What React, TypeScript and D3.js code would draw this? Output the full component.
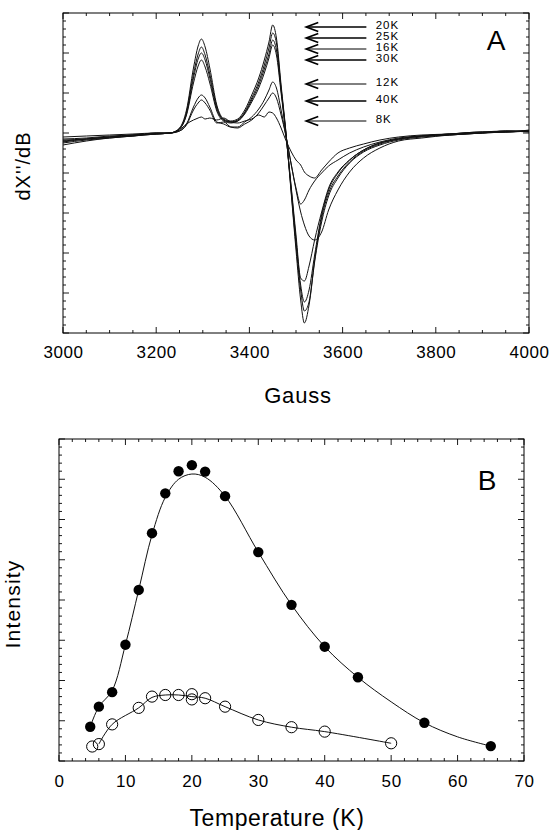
import { useEffect, useRef } from 'react';
import * as d3 from 'd3';

const FONT = '"Liberation Sans", Arial, Helvetica, sans-serif';

// ---- panel A: EPR derivative spectra (arbitrary units, baseline = 0) ----
const gauss = [
  3000, 3050, 3100, 3150, 3200, 3230, 3250, 3265, 3280, 3290, 3297, 3305, 3315, 3330,
  3345, 3360, 3375, 3390, 3405, 3420, 3432, 3442, 3450, 3458, 3468, 3478, 3490, 3500,
  3510, 3518, 3528, 3540, 3555, 3570, 3590, 3615, 3645, 3680, 3720, 3770, 3830, 3900,
  3950, 4000,
];

const spec20K = [
  -8, -6, -4, -2, -1, 0, 5, 23, 65, 87, 94, 86, 65, 28,
  14, 12, 14, 23, 38, 55, 73, 91, 108, 95, 48, 3, -62, -117,
  -167, -190, -172, -129, -89, -63, -45, -30, -19, -12, -7, -4, -2, 0,
  1, 2,
];
const spec25K = [
  -10, -7, -5, -3, -1, 0, 4, 21, 59, 79, 86, 78, 59, 26,
  13, 11, 13, 21, 35, 51, 68, 85, 100, 90, 45, 2, -60, -112,
  -157, -178, -169, -127, -85, -60, -43, -29, -18, -11, -6, -3, -1, 1,
  1, 2,
];
const spec16K = [
  -6, -5, -3, -2, 0, 0, 4, 19, 55, 74, 80, 73, 55, 24,
  13, 11, 12, 20, 33, 48, 64, 79, 93, 83, 43, 1, -57, -107,
  -152, -169, -157, -122, -82, -57, -40, -27, -17, -10, -6, -3, -1, 0,
  2, 1,
];
const spec30K = [
  -12, -8, -5, -3, -1, 0, 4, 18, 50, 67, 73, 66, 50, 22,
  12, 10, 12, 19, 31, 45, 60, 75, 88, 78, 40, 0, -55, -102,
  -145, -148, -133, -107, -79, -55, -39, -27, -17, -10, -6, -3, -2, 0,
  1, 2,
];
const spec12K = [
  -9, -6, -4, -2, -1, 0, 2, 9, 26, 35, 38, 35, 26, 11,
  9, 6, 6, 11, 16, 24, 33, 43, 51, 45, 23, -2, -32, -55,
  -71, -67, -57, -48, -40, -33, -27, -20, -14, -9, -5, -3, -1, 1,
  1, 3,
];
const spec40K = [
  -4, -3, -2, -1, 0, 0, 2, 8, 23, 30, 33, 30, 23, 10,
  11, 6, 5, 9, 13, 20, 28, 35, 40, 35, 18, -2, -32, -57,
  -79, -92, -103, -107, -99, -77, -57, -39, -25, -15, -8, -5, -2, 0,
  2, 2,
];
const spec8K = [
  -7, -6, -4, -3, 0, 0, 3, 9, 13, 15, 16, 14, 15, 13,
  15, 11, 10, 12, 14, 18, 16, 21, 20, 15, 5, -7, -19, -27,
  -32, -39, -43, -45, -37, -29, -20, -15, -11, -7, -4, -2, -1, 1,
  2, 2,
];

const spectra = [spec8K, spec12K, spec40K, spec30K, spec16K, spec25K, spec20K];

const arrowLabels = ['20K', '25K', '16K', '30K', '12K', '40K', '8K'];
const arrowLevels = [106, 95, 84, 73, 49, 32, 12];
const arrowWeights = [1.6, 1.6, 1, 1.6, 1, 1.6, 1.2];

// ---- panel B: intensity vs temperature ----
const tFilled = [4.7, 6, 8, 10, 12, 14, 16, 18, 20, 22, 25, 30, 35, 40, 45, 55, 65];
const iFilled = [0.85, 1.35, 1.71, 2.89, 4.25, 5.66, 6.65, 7.2, 7.35, 7.19, 6.58, 5.19, 3.88, 2.84, 2.08, 0.95, 0.37];

const tFit = [4.7, 6, 8, 10, 12, 14, 16, 18, 20, 22, 25, 30, 35, 40, 45, 50, 55, 60, 65];
const iFit = [0.85, 1.35, 1.75, 2.89, 4.25, 5.62, 6.55, 7.0, 7.13, 7.05, 6.58, 5.19, 3.88, 2.84, 2.08, 1.47, 0.95, 0.6, 0.37];

const tOpen = [5, 6, 8, 12, 14, 16, 18, 20, 20, 22, 25, 30, 35, 40, 50];
const iOpen = [0.36, 0.42, 0.91, 1.32, 1.6, 1.64, 1.64, 1.66, 1.53, 1.56, 1.35, 1.02, 0.84, 0.73, 0.44];

const tOpenLine = [6, 8, 12, 14, 16, 18, 20, 22, 25, 30, 35, 40, 50];
const iOpenLine = [0.42, 0.91, 1.32, 1.58, 1.64, 1.64, 1.6, 1.56, 1.35, 1.02, 0.84, 0.73, 0.44];

const W = 550;
const H = 830;

// boxed frame with inward ticks on all four sides
function drawFrame(g, x, y, xMajor, xMinor, yMajor, yMinor) {
  const [xl, xr] = x.range();
  const [yb, yt] = y.range();
  const isMajor = (v, step) => Math.abs(v / step - Math.round(v / step)) < 1e-6;

  g.append('rect')
    .attr('x', xl).attr('y', yt)
    .attr('width', xr - xl).attr('height', yb - yt)
    .attr('fill', 'none').attr('stroke', '#000').attr('stroke-width', 1);

  const [xd0, xd1] = x.domain();
  d3.range(0, Math.round((xd1 - xd0) / xMinor) + 1).map(i => xd0 + i * xMinor).forEach(v => {
    const len = isMajor(v, xMajor) ? 6 : 3;
    const px = x(v);
    g.append('line').attr('x1', px).attr('x2', px).attr('y1', yb).attr('y2', yb - len)
      .attr('stroke', '#000').attr('stroke-width', 0.9);
    g.append('line').attr('x1', px).attr('x2', px).attr('y1', yt).attr('y2', yt + len)
      .attr('stroke', '#000').attr('stroke-width', 0.9);
  });

  const [yd0, yd1] = y.domain();
  d3.range(0, Math.round((yd1 - yd0) / yMinor) + 1).map(i => yd0 + i * yMinor).forEach(v => {
    const len = isMajor(v, yMajor) ? 6 : 3;
    const py = y(v);
    g.append('line').attr('x1', xl).attr('x2', xl + len).attr('y1', py).attr('y2', py)
      .attr('stroke', '#000').attr('stroke-width', 0.9);
    g.append('line').attr('x1', xr).attr('x2', xr - len).attr('y1', py).attr('y2', py)
      .attr('stroke', '#000').attr('stroke-width', 0.9);
  });
}

function tickLabels(g, x, yPos, values, padding) {
  g.append('g')
    .attr('transform', `translate(0,${yPos})`)
    .call(d3.axisBottom(x).tickValues(values).tickSize(0).tickPadding(padding).tickFormat(d3.format('d')))
    .call(a => a.select('.domain').remove())
    .selectAll('text')
    .attr('fill', '#000')
    .style('font-family', FONT)
    .style('font-size', '17px')
    .style('letter-spacing', '0.6px');
}

export default function App() {
  const svgRef = useRef(null);

  useEffect(() => {
    const svg = d3.select(svgRef.current);
    svg.selectAll('*').remove();
    svg.append('rect').attr('width', W).attr('height', H).attr('fill', '#fff');

    // ===== Panel A =====
    const xA = d3.scaleLinear().domain([3000, 4000]).range([63, 529]);
    const yA = d3.scaleLinear().domain([-200, 120]).range([333, 13]);
    const gA = svg.append('g');

    drawFrame(gA, xA, yA, 200, 50, 40, 8);
    tickLabels(gA, xA, 333, [3000, 3200, 3400, 3600, 3800, 4000], 13);

    const lineA = d3.line()
      .x((d, i) => xA(gauss[i]))
      .y(d => yA(d))
      .curve(d3.curveMonotoneX);

    spectra.forEach(s => {
      gA.append('path')
        .attr('d', lineA(s))
        .attr('fill', 'none')
        .attr('stroke', '#111')
        .attr('stroke-width', 1);
    });

    // temperature arrows
    const tipX = xA(3522);
    const tailX = xA(3651);
    arrowLevels.forEach((lv, i) => {
      const yy = yA(lv);
      gA.append('line')
        .attr('x1', tipX + 1).attr('x2', tailX)
        .attr('y1', yy).attr('y2', yy)
        .attr('stroke', '#000').attr('stroke-width', arrowWeights[i]);
      gA.append('path')
        .attr('d', `M${tipX + 12},${yy - 4.5}L${tipX},${yy}L${tipX + 12},${yy + 4.5}`)
        .attr('fill', 'none').attr('stroke', '#000').attr('stroke-width', 1.7);
      gA.append('text')
        .attr('x', xA(3671))
        .attr('y', yy - 1.5)
        .attr('dominant-baseline', 'middle')
        .style('font-family', FONT)
        .style('font-size', '11.5px')
        .style('letter-spacing', '1px')
        .text(arrowLabels[i]);
    });

    gA.append('text')
      .attr('x', 496).attr('y', 50)
      .attr('text-anchor', 'middle')
      .style('font-family', FONT).style('font-size', '28px')
      .text('A');

    gA.append('text')
      .attr('x', 298).attr('y', 403)
      .attr('text-anchor', 'middle')
      .style('font-family', FONT).style('font-size', '22px').style('letter-spacing', '0.8px')
      .text('Gauss');

    gA.append('text')
      .attr('transform', 'translate(30,166) rotate(-90)')
      .attr('text-anchor', 'middle')
      .style('font-family', FONT).style('font-size', '20px').style('letter-spacing', '1px')
      .text("dX''/dB");

    // ===== Panel B =====
    const xB = d3.scaleLinear().domain([0, 70]).range([59, 524]);
    const yB = d3.scaleLinear().domain([0, 8]).range([761, 439]);
    const gB = svg.append('g');

    drawFrame(gB, xB, yB, 10, 2, 1, 0.2);
    tickLabels(gB, xB, 761, d3.range(0, 71, 10), 14);

    const fitLine = d3.line()
      .x((d, i) => xB(tFit[i]))
      .y(d => yB(d))
      .curve(d3.curveCatmullRom.alpha(0.5));
    gB.append('path')
      .attr('d', fitLine(iFit))
      .attr('fill', 'none').attr('stroke', '#111').attr('stroke-width', 1);

    const openLine = d3.line()
      .x((d, i) => xB(tOpenLine[i]))
      .y(d => yB(d))
      .curve(d3.curveCatmullRom.alpha(0.5));
    gB.append('path')
      .attr('d', openLine(iOpenLine))
      .attr('fill', 'none').attr('stroke', '#111').attr('stroke-width', 1);

    gB.selectAll('.filled')
      .data(iFilled)
      .enter()
      .append('circle')
      .attr('cx', (d, i) => xB(tFilled[i]))
      .attr('cy', d => yB(d))
      .attr('r', 5.2)
      .attr('fill', '#000');

    gB.selectAll('.open')
      .data(iOpen)
      .enter()
      .append('circle')
      .attr('cx', (d, i) => xB(tOpen[i]))
      .attr('cy', d => yB(d))
      .attr('r', 5.6)
      .attr('fill', 'none')
      .attr('stroke', '#000')
      .attr('stroke-width', 1);

    gB.append('text')
      .attr('x', 487).attr('y', 490)
      .attr('text-anchor', 'middle')
      .style('font-family', FONT).style('font-size', '28px')
      .text('B');

    gB.append('text')
      .attr('x', 277).attr('y', 826)
      .attr('text-anchor', 'middle')
      .style('font-family', FONT).style('font-size', '23px').style('letter-spacing', '0.6px')
      .text('Temperature (K)');

    gB.append('text')
      .attr('transform', 'translate(20,604) rotate(-90)')
      .attr('text-anchor', 'middle')
      .style('font-family', FONT).style('font-size', '21px').style('letter-spacing', '1.2px')
      .text('Intensity');
  }, []);

  return (
    <svg
      ref={svgRef}
      width={W}
      height={H}
      style={{ position: 'absolute', left: 0, top: 0, display: 'block' }}
    />
  );
}
